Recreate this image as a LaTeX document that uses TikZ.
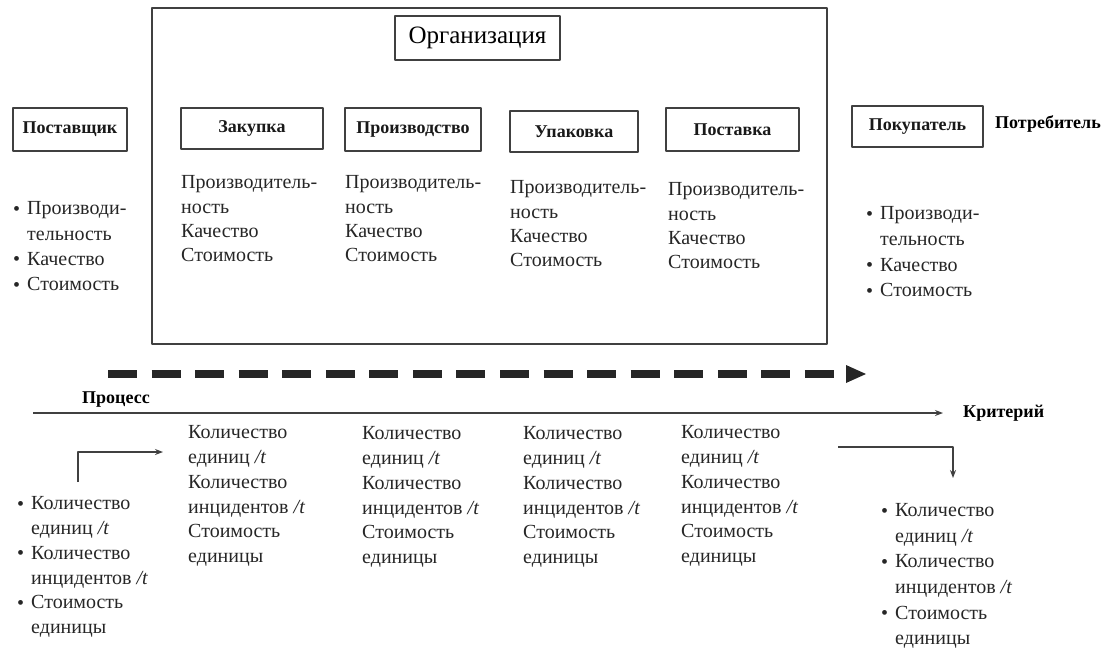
\documentclass[tikz,border=0pt]{standalone}
\usepackage{fontspec}
\setmainfont{Liberation Serif}
\usetikzlibrary{arrows.meta}
\newcommand{\firstln}{\rule{0pt}{17pt}}
\newcommand{\bul}{\makebox[14pt][l]{\fontsize{20}{20}\selectfont\raisebox{-0.5pt}{\textbullet}}}
\newcommand{\ind}{\hspace*{14pt}}
\begin{document}
\begin{tikzpicture}[x=1pt, y=-1pt, line join=round, >={Stealth[length=8pt,width=6pt]},
	ink/.style={draw=black!75, line width=1.6pt},
	lbl/.style={ink, inner sep=0pt, text=black!90, font=\fontsize{18}{20}\selectfont\bfseries},
	txt/.style={anchor=north west, inner sep=0pt, align=left, yshift=11.5pt, text=black!85, font=\fontsize{20}{#1}\selectfont},
	txt/.default=24.5,
	thin/.style={draw=black!75, line width=1.2pt}]
	\useasboundingbox (0,0) rectangle (1116,651);
	% organisation frame and the boxes
	\draw[ink] (152,8) rectangle (827,344);
	\node[ink, inner sep=0pt, minimum width=165, minimum height=44, font=\fontsize{25}{27}\selectfont] (org) at (477.5,38) {Организация};
	\node[lbl, minimum width=114, minimum height=43] (sup) at (70,129.5) {Поставщик};
	\node[lbl, minimum width=142, minimum height=41] (zak) at (252,128.5) {Закупка};
	\node[lbl, minimum width=136, minimum height=43] (pro) at (413,129.5) {Производство};
	\node[lbl, minimum width=128, minimum height=41] (upa) at (574,131.5) {Упаковка};
	\node[lbl, minimum width=133, minimum height=43] (pos) at (732.5,129.5) {Поставка};
	\node[lbl, minimum width=131, minimum height=41] (pok) at (917.5,126.5) {Покупатель};
	\node[anchor=west, inner sep=0pt, font=\fontsize{18}{20}\selectfont\bfseries] (potr) at (995,124) {Потребитель};
	% criteria under the boxes
	\foreach \n/\x/\y in {zak/181/183, pro/345/183, upa/510/188, pos/668/190}
		\node[txt=24.3] (\n txt) at (\x,\y) {\firstln Производитель-\\ность\\Качество\\Стоимость};
	\node[txt=25.3] (suptxt) at (13,209) {\firstln\bul Производи-\\\ind тельность\\\bul Качество\\\bul Стоимость};
	\node[txt=25.7] (poktxt) at (866,214) {\firstln\bul Производи-\\\ind тельность\\\bul Качество\\\bul Стоимость};
	% process arrow and criterion axis
	\coordinate (pstart) at (108,374); \coordinate (pend) at (834,374);
	\draw[black!85, line width=8pt, dash pattern=on 29pt off 14.56pt] (pstart)--(pend);
	\fill[black!85] (846,365)--(866,374)--(846,383)--cycle;
	\node[anchor=west, inner sep=0pt, font=\fontsize{18}{20}\selectfont\bfseries] (proc) at (82,400) {Процесс};
	\node[anchor=west, inner sep=0pt, font=\fontsize{18}{20}\selectfont\bfseries] (crit) at (963,413) {Критерий};
	\coordinate (axstart) at (33,413);
	\draw[thin,->,shorten >=20pt] (axstart)--(crit.west);
	% measures below the axis
	\foreach \n/\x/\y in {k1/188/433, k2/362/434, k3/523/434, k4/681/433}
		\node[txt=24.8] (\n) at (\x,\y) {\firstln Количество\\единиц \textit{/t}\\Количество\\инцидентов \textit{/t}\\Стоимость\\единицы};
	\node[txt=24.8] (inb) at (17,504) {\firstln\bul Количество\\\ind единиц \textit{/t}\\\bul Количество\\\ind инцидентов \textit{/t}\\\bul Стоимость\\\ind единицы};
	\node[txt=25.6] (outb) at (881,511) {\firstln\bul Количество\\\ind единиц \textit{/t}\\\bul Количество\\\ind инцидентов \textit{/t}\\\bul Стоимость\\\ind единицы};
	\coordinate (lfrom) at (78,482); \coordinate (lto) at (163,452);
	\coordinate (rfrom) at (838,447); \coordinate (rto) at (953,478);
	\draw[thin,->] (lfrom)|-(lto);
	\draw[thin,->] (rfrom)-|(rto);
\end{tikzpicture}
\end{document}
